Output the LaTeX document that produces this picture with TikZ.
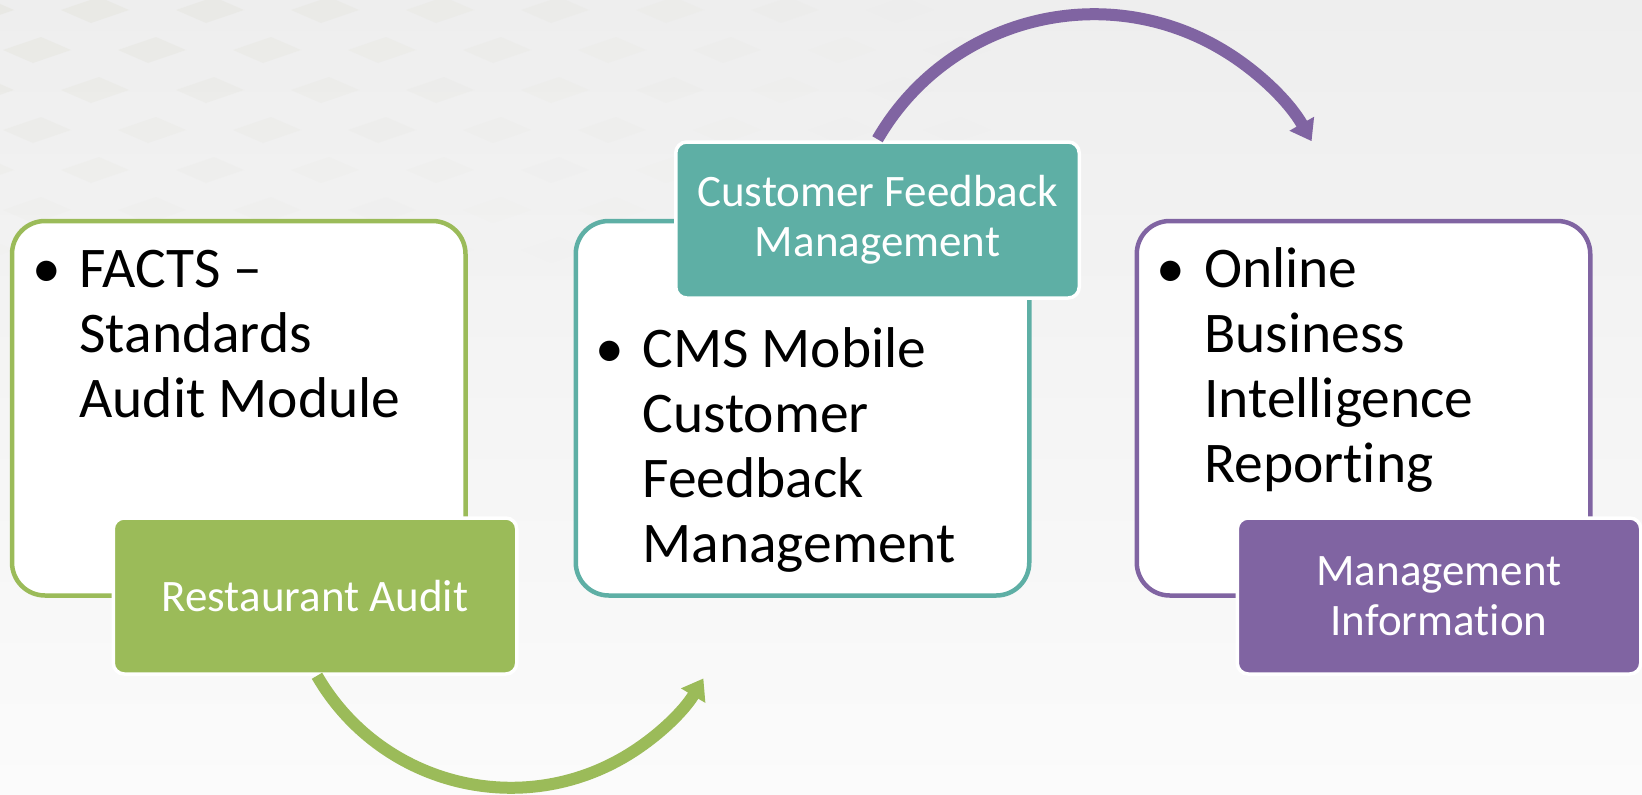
\documentclass[tikz,border=0pt]{standalone}
\usepackage{fontspec}
\setmainfont{Carlito}[Ligatures={NoCommon}]
\usetikzlibrary{arrows.meta}
\definecolor{cgreen}{HTML}{9BBB59}
\definecolor{cteal}{HTML}{5EAFA5}
\definecolor{cpurple}{HTML}{8064A2}
\definecolor{bgtop}{HTML}{EEEEEE}
\definecolor{bgbot}{HTML}{FBFBFB}
\definecolor{patt}{HTML}{E2E2D8}
\tikzset{
  outbox/.style={draw, fill=white, line width=4.5pt, rounded corners=33pt,
    minimum width=453.5pt, minimum height=374.5pt, inner sep=0pt},
  tagbox/.style={draw=white, line width=3.5pt, rounded corners=11pt,
    minimum width=403.5pt, minimum height=156pt, text=white, align=center,
    font=\fontsize{45}{50}\selectfont, inner sep=0pt},
  bullettext/.style={anchor=base west, inner sep=0pt, font=\fontsize{57.5}{65}\selectfont},
  flow/.style={line width=12pt, -{Triangle[length=20pt,width=27pt]}},
}
\newcommand{\bul}[1]{\makebox[#1][l]{•}}
\begin{document}
\begin{tikzpicture}[x=1pt, y=-1pt]
\useasboundingbox (0,0) rectangle (1642,795);
\shade[top color=bgtop, bottom color=bgbot] (0,0) rectangle (1642,795);

% faint background texture
\foreach \r in {0,...,6}{
  \foreach \c in {0,...,9}{
    \pgfmathsetmacro{\px}{\c*115 + mod(\r,2)*57 - 20}
    \pgfmathsetmacro{\py}{\r*40 + 10}
    \pgfmathsetmacro{\op}{max(0,0.45*(1-\px/1000)*(1-\py/280))}
    \fill[patt, opacity=\op] (\px-34,\py) -- (\px+4,\py-13) -- (\px+34,\py) -- (\px-4,\py+13) -- cycle;
  }
}

% outline boxes
\node[outbox, draw=cgreen] (b1) at (238.75,408.25) {};
\node[outbox, draw=cteal] (b2) at (802.5,408.25) {};
\node[outbox, draw=cpurple] (b3) at (1363.5,408.25) {};

% bullet texts
\node[bullettext] (t1) at (32,287.3) {\begin{tabular}[t]{@{}l@{}l@{}}\bul{47.3pt} & FACTS –\\ & Standards\\ & Audit Module\end{tabular}};
\node[bullettext] (t2) at (595,367) {\begin{tabular}[t]{@{}l@{}l@{}}\bul{47.3pt} & CMS Mobile\\ & Customer\\ & Feedback\\ & Management\end{tabular}};
\node[bullettext] (t3) at (1156,287.3) {\begin{tabular}[t]{@{}l@{}l@{}}\bul{48pt} & Online\\ & Business\\ & Intelligence\\ & Reporting\end{tabular}};

% tag boxes
\node[tagbox, fill=cgreen] (ra) at (315,596) {Restaurant Audit};
\node[tagbox, fill=cteal] (cf) at (877.5,220) {Customer Feedback\\Management};
\node[tagbox, fill=cpurple] (mi) at (1439,596) {Management\\Information};

% arrows
\coordinate (ge) at (701.4,677.7);
\coordinate (pe) at (1311.6,140.9);
\draw[flow, cgreen] ([xshift=2pt]ra.south) arc[start angle=150, end angle=30.8, radius=224];
\draw[flow, cpurple] ([yshift=1pt]cf.north) arc[start angle=-150, end angle=-29.5, radius=250];
\end{tikzpicture}
\end{document}
